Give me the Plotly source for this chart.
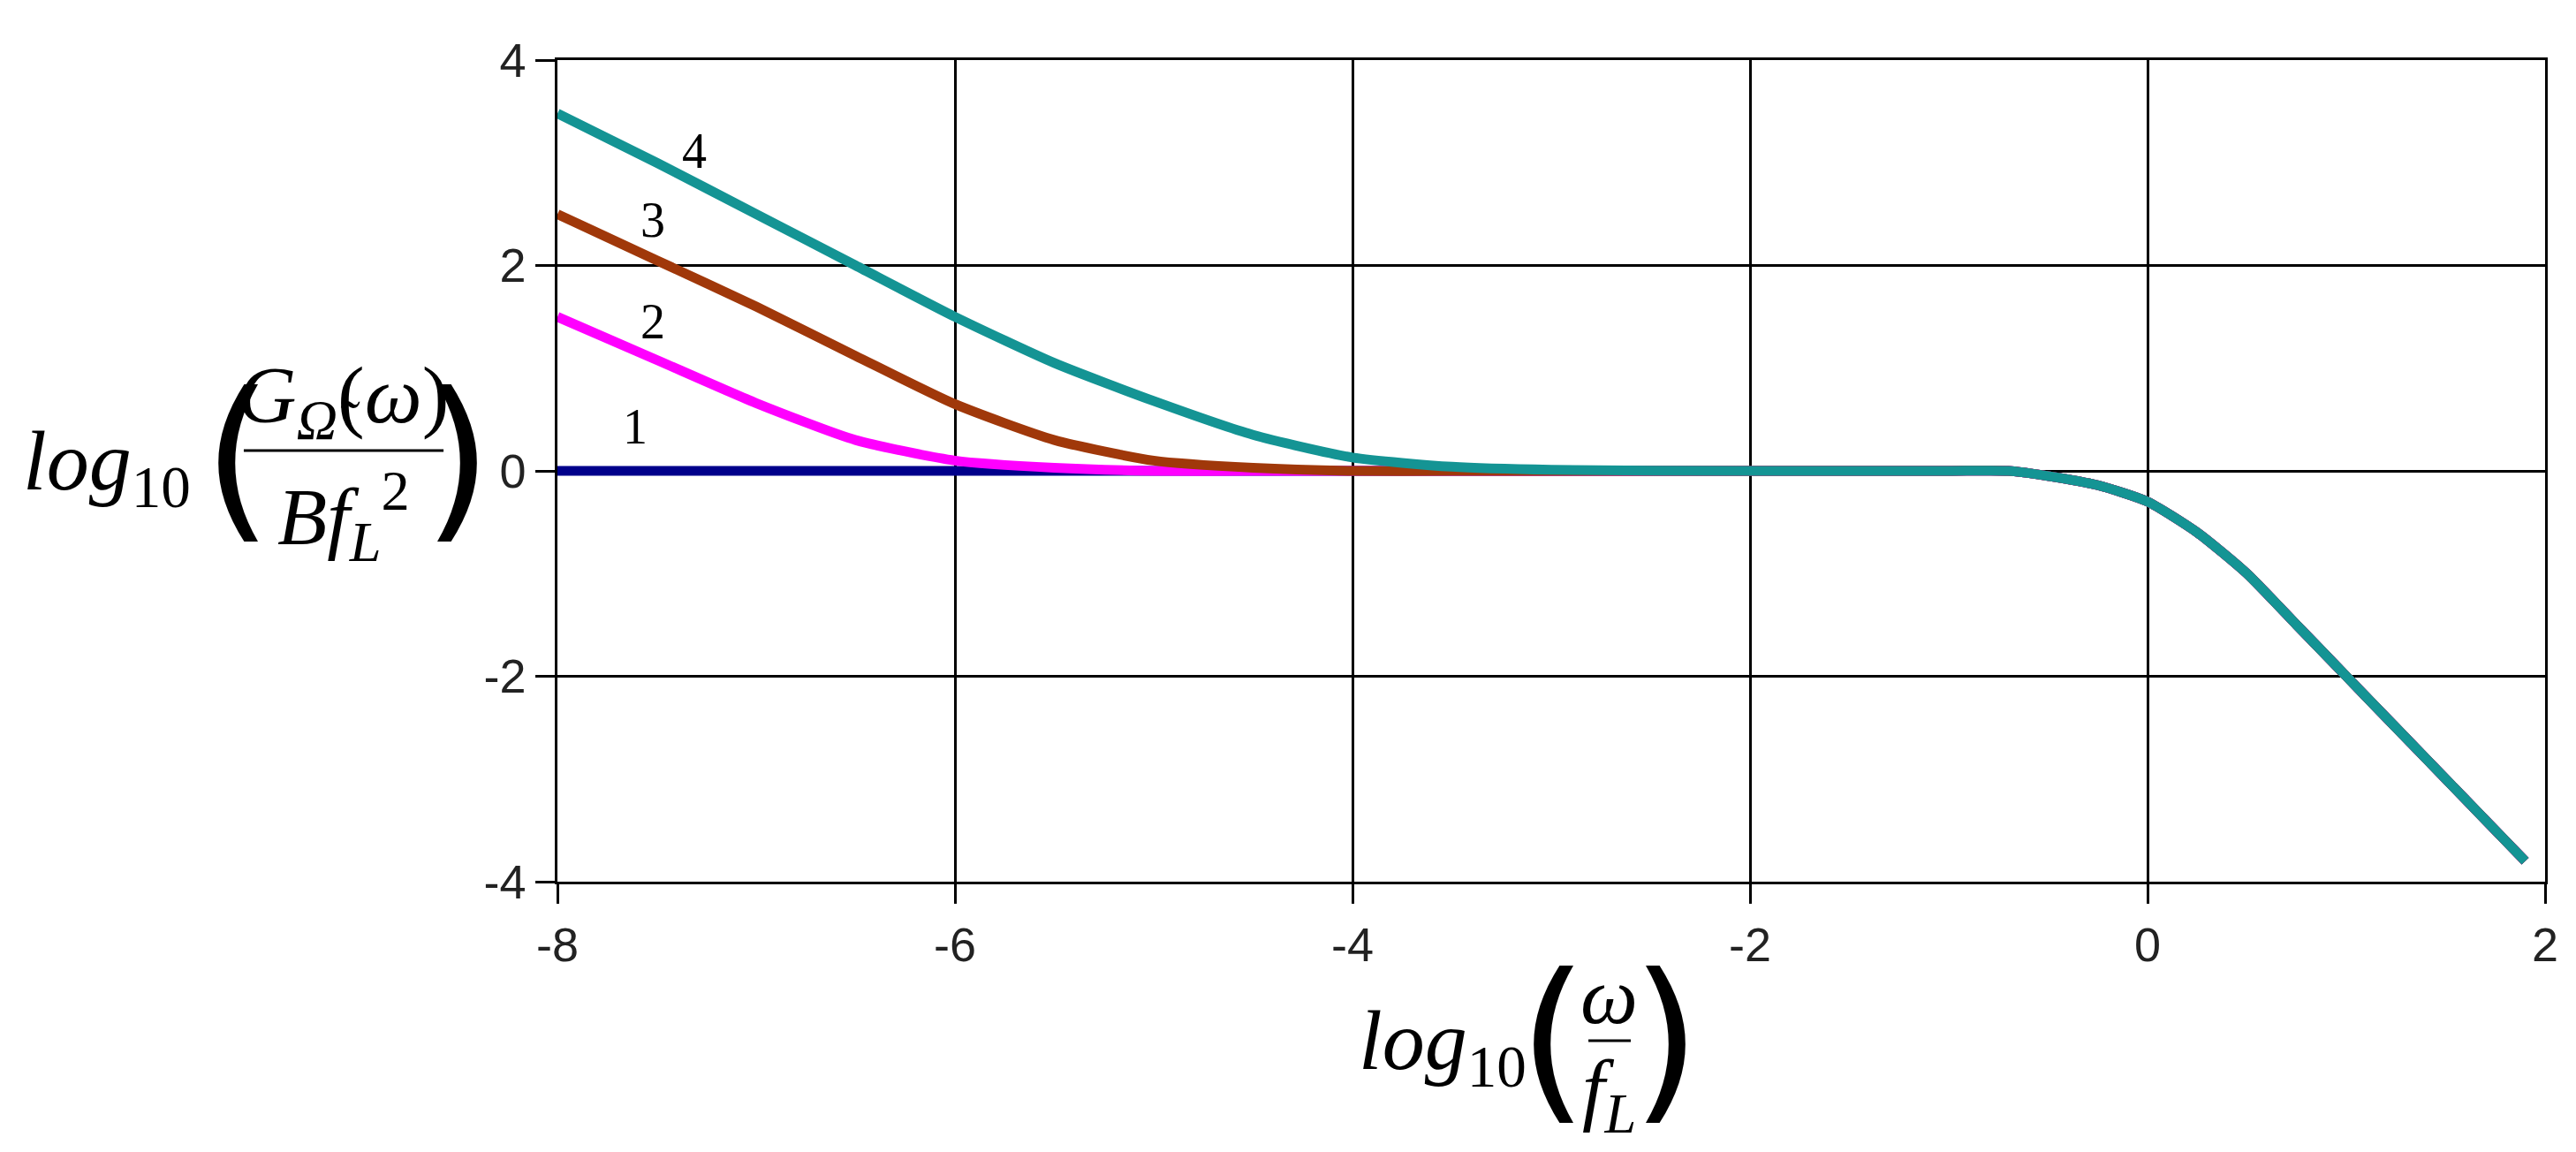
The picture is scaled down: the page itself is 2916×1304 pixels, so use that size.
import plotly.graph_objects as go

x_left = [-8, -7.5, -7, -6.5, -6, -5.5, -5, -4.5, -4, -3.5, -3, -2, -1, -0.7]
c1_left = [0, 0, 0, 0, 0, 0, 0, 0, 0, 0, 0, 0, 0, 0]
c2_left = [1.5, 1.08, 0.66, 0.3, 0.1, 0.03, 0.0, 0, 0, 0, 0, 0, 0, 0]
c3_left = [2.5, 2.05, 1.6, 1.12, 0.65, 0.3, 0.1, 0.03, 0.0, 0, 0, 0, 0, 0]
c4_left = [3.48, 3.0, 2.5, 2.0, 1.5, 1.05, 0.68, 0.35, 0.13, 0.04, 0.01, 0, 0, 0]
x_right = [-0.5, -0.25, 0, 0.25, 0.5, 0.75, 1.0, 1.25, 1.5, 1.9]
y_right = [-0.05, -0.14, -0.3, -0.6, -1.0, -1.5, -2.0, -2.5, -3.0, -3.8]
names = ["1", "2", "3", "4"]
colors = ["#00008B", "#FF00FF", "#A0380A", "#149494"]
label_x = [-7.61, -7.52, -7.52, -7.31]
label_y = [0.43, 1.45, 2.44, 3.11]
tick_vals_x = [-8, -6, -4, -2, 0, 2]
tick_text_x = ["-8", "-6", "-4", "-2", "0", "2"]
tick_vals_y = [-4, -2, 0, 2, 4]
tick_text_y = ["-4", "-2", "0", "2", "4"]

fig = go.Figure()
for n, c, yl in zip(names, colors, [c1_left, c2_left, c3_left, c4_left]):
    fig.add_trace(go.Scatter(x=x_left + x_right, y=yl + y_right, mode="lines",
                             line=dict(color=c, width=11, shape="spline", smoothing=0.6),
                             name=n, showlegend=False))
for n, lx, ly in zip(names, label_x, label_y):
    fig.add_annotation(x=lx, y=ly, text=n, showarrow=False,
                       font=dict(family="Liberation Serif", size=56, color="black"))

ser = "Liberation Serif"
def ann(x, y, t, s, fam=ser):
    fig.add_annotation(x=x, y=y, xref="paper", yref="paper", text=t, showarrow=False,
                       xanchor="center", yanchor="middle", font=dict(family=fam, size=s, color="black"))

# y title
ann(-0.2267, 0.505, "<i>log</i><sub>10</sub>", 96)
ann(-0.1609, 0.517, "(", 200, "DejaVu Sans")
ann(-0.0502, 0.517, ")", 200, "DejaVu Sans")
ann(-0.1076, 0.585, "<i>G</i><sub><i>Ω̃</i></sub>(<i>ω</i>)", 92)
ann(-0.1076, 0.445, "<i>Bf</i><sub><i>L</i></sub><sup>2</sup>", 92)
fig.add_shape(type="line", xref="paper", yref="paper", x0=-0.1578, x1=-0.0573, y0=0.5247, y1=0.5247,
              line=dict(color="black", width=3))
# x title
ann(0.4453, -0.2, "<i>log</i><sub>10</sub>", 96)
ann(0.5009, -0.191, "(", 200, "DejaVu Sans")
ann(0.5578, -0.191, ")", 200, "DejaVu Sans")
ann(0.5293, -0.1387, "<i>ω</i>", 92)
ann(0.5293, -0.2591, "<i>f</i><sub><i>L</i></sub>", 92)
fig.add_shape(type="line", xref="paper", yref="paper", x0=0.5187, x1=0.5400, y0=-0.1935, y1=-0.1935,
              line=dict(color="black", width=3))

axis = dict(showgrid=True, gridcolor="black", gridwidth=2.5, showline=True, linecolor="black",
            linewidth=2.5, ticks="outside", ticklen=22, tickwidth=2.5, tickcolor="black",
            zeroline=False, tickfont=dict(family="Liberation Sans", size=54, color="#222"), mirror=True)
fig.update_xaxes(range=[-8, 2], tickvals=tick_vals_x, ticktext=tick_text_x, **axis)
fig.update_yaxes(range=[-4, 4], tickvals=tick_vals_y, ticktext=tick_text_y, **axis)
fig.update_layout(width=2916, height=1304, margin=dict(l=623, r=43, t=60, b=314),
                  paper_bgcolor="white", plot_bgcolor="white")
fig.write_html("out.html")
